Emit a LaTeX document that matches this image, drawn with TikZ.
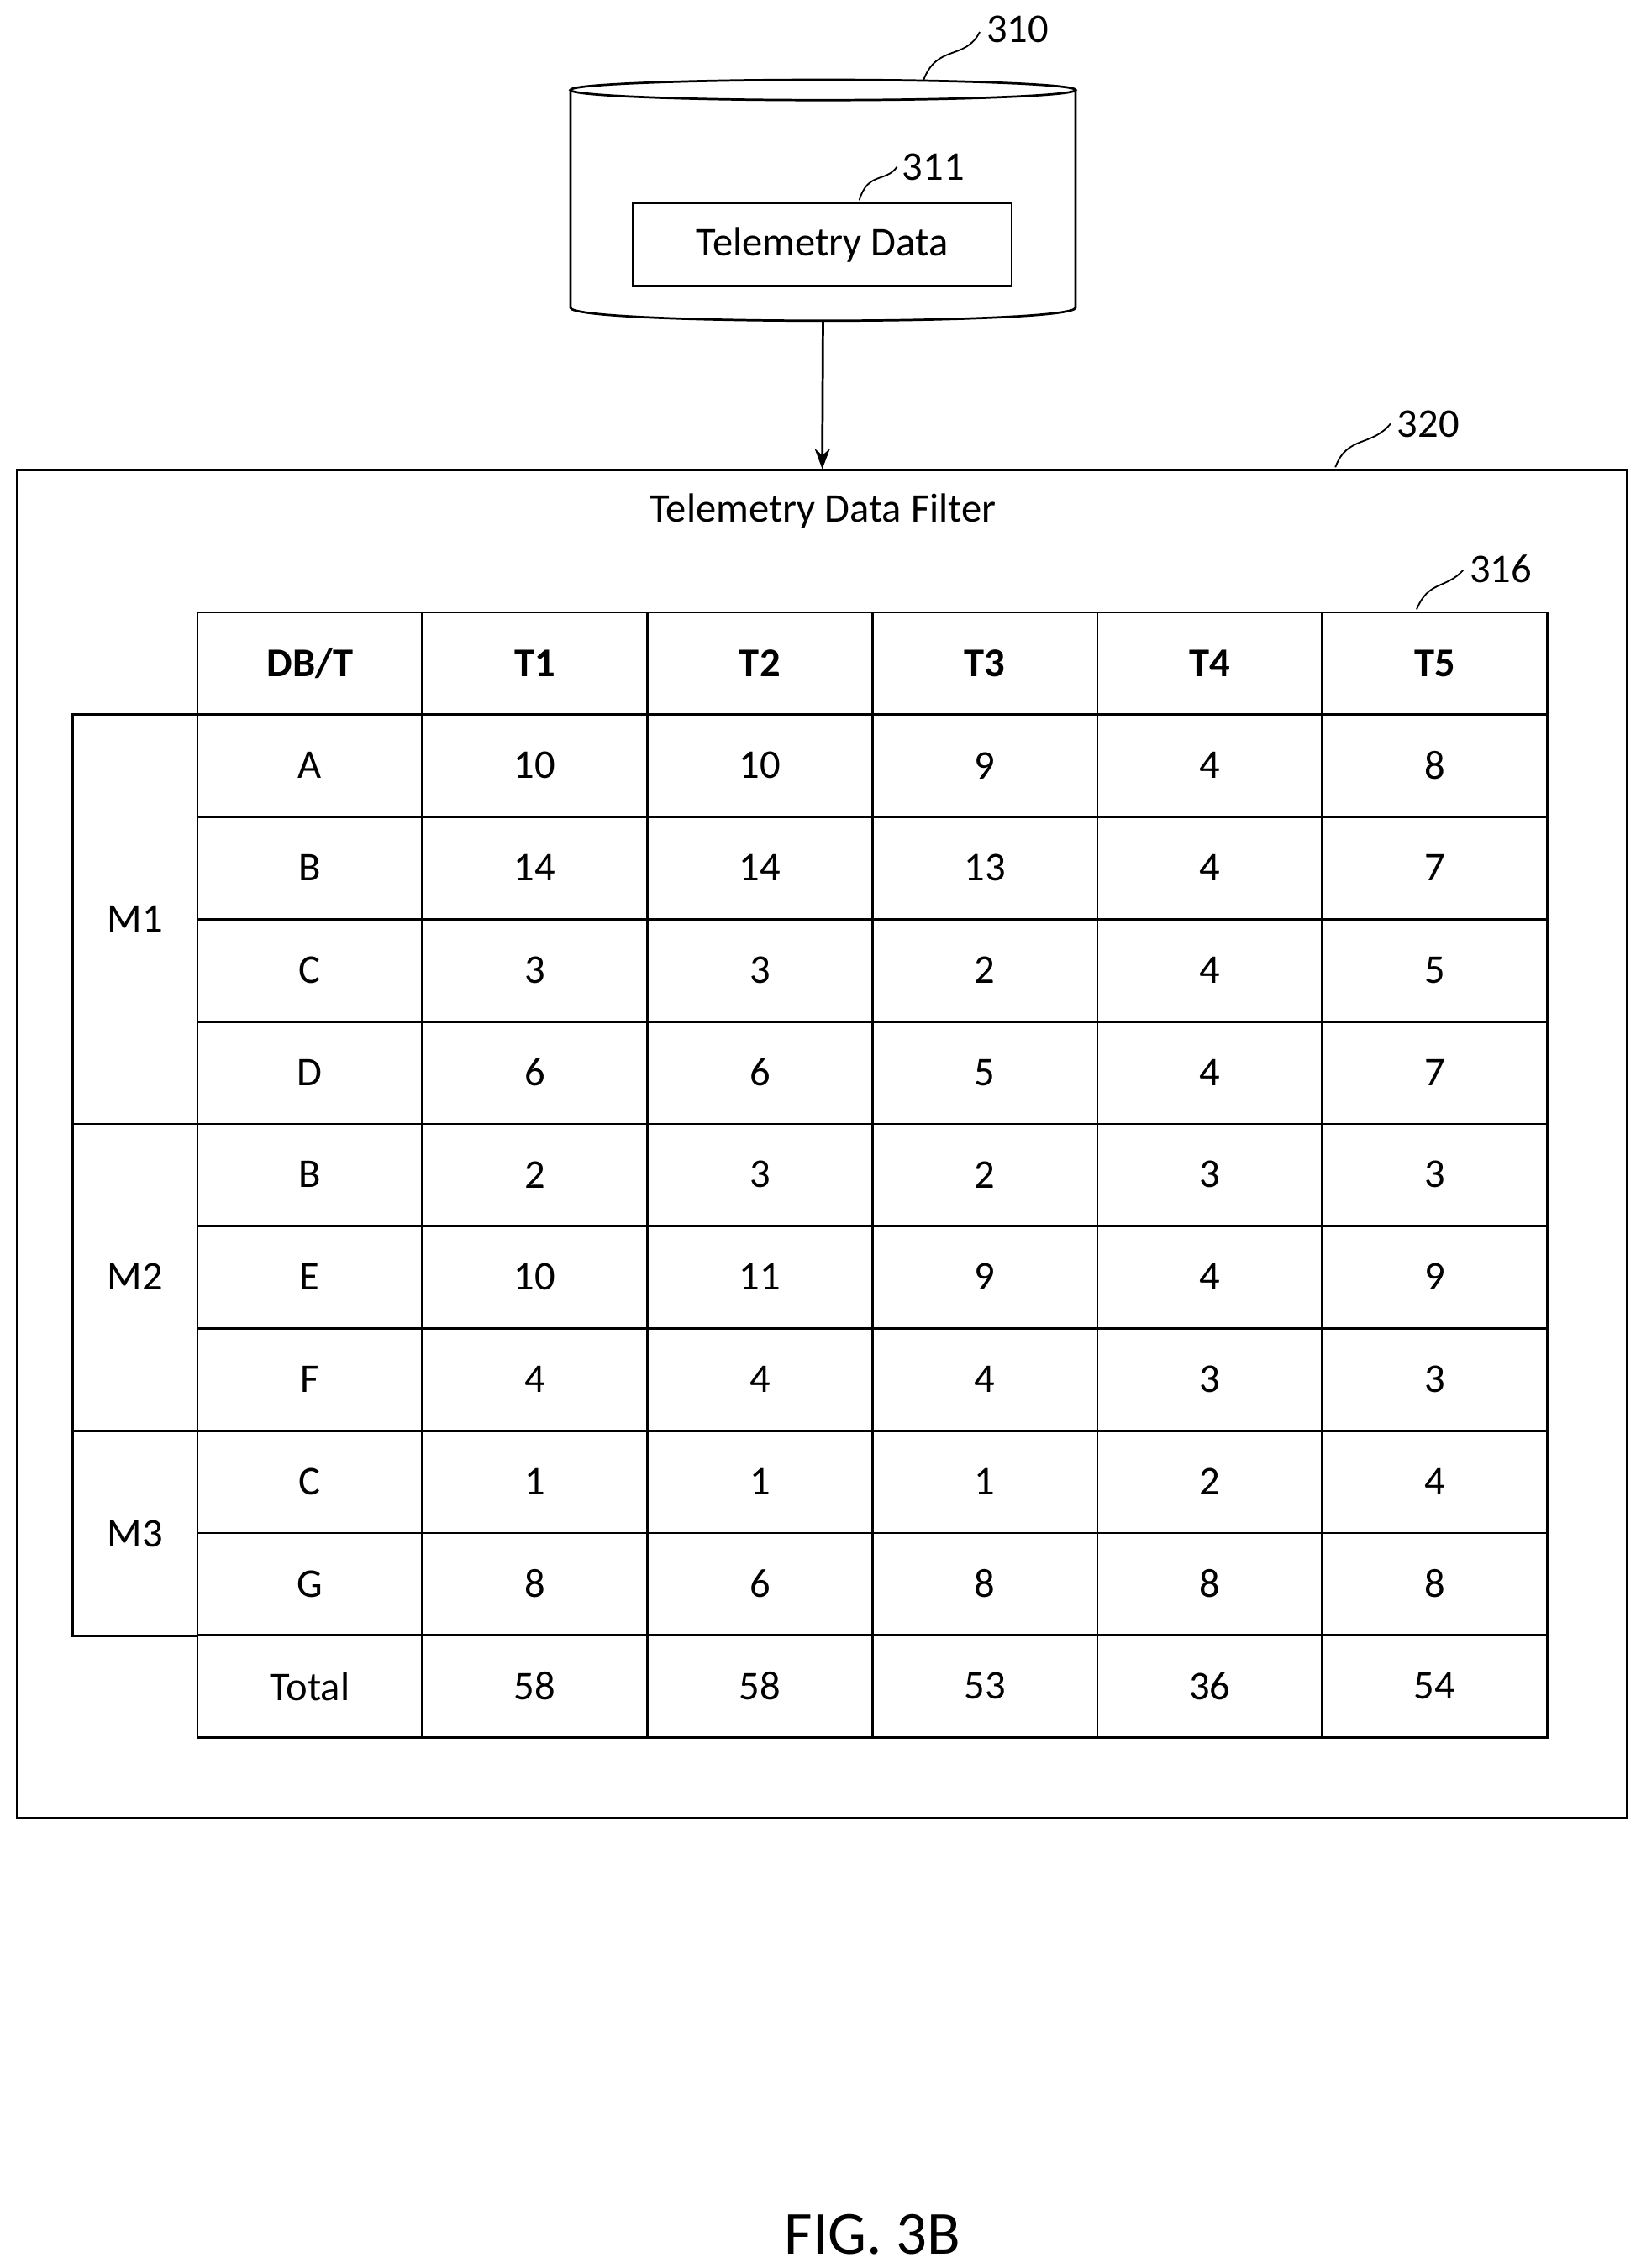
\documentclass[tikz,border=0pt]{standalone}
\usepackage{fontspec}
\setmainfont{Carlito}
\usetikzlibrary{arrows.meta}

\tikzset{
    cell/.style={font=\fontsize{16}{19}\selectfont},
    head/.style={font=\fontsize{16}{19}\selectfont\bfseries},
    refnum/.style={font=\fontsize{16}{19}\selectfont, anchor=west},
    leader/.style={line width=0.6pt}
}

\begin{document}
\begin{tikzpicture}[x=0.02cm, y=-0.02cm, line width=0.9pt]
    \useasboundingbox (0,0) rectangle (1130,1563);

    % Database cylinder
    \draw (393,62) -- (393,212) .. controls (393,224) and (741,224) .. (741,212) -- (741,62);
    \draw (567,62) ellipse (174 and 7);
    \node[draw, minimum width=261*0.02cm, minimum height=57*0.02cm, cell] (tdata) at (566.5,168.5) {Telemetry Data};
    \coordinate (dbbot) at (567,221);

    % Filter box
    \node[draw, minimum width=1109*0.02cm, minimum height=929*0.02cm] (filter) at (566.5,788.5) {};
    \node[cell] (ftitle) at (567,352) {Telemetry Data Filter};
    \draw[-{Stealth[length=8pt]}] (dbbot) -- (filter.north);

    % Table grid
    \foreach \i in {0,...,10}
        \draw (136,{422+\i*70.5}) rectangle (1066,{492.5+\i*70.5});
    \foreach \x in {291,446,601,756,911}
        \draw (\x,422) -- (\x,1198);

    % Group boxes
    \draw (50,492.5) rectangle (136,774.5);
    \draw (50,774.5) rectangle (136,986);
    \draw (50,986) rectangle (136,1127.5);
    \node[cell] (m1) at (93,633.5) {M1};
    \node[cell] (m2) at (93,880) {M2};
    \node[cell] (m3) at (93,1057) {M3};

    % Header
    \foreach \t [count=\c from 0] in {DB/T,T1,T2,T3,T4,T5}
        \node[head] (h\c) at ({213.5+\c*155},457) {\t};

    % Rows
    \foreach \row [count=\r from 1] in {
        {A,10,10,9,4,8},{B,14,14,13,4,7},{C,3,3,2,4,5},{D,6,6,5,4,7},
        {B,2,3,2,3,3},{E,10,11,9,4,9},{F,4,4,4,3,3},
        {C,1,1,1,2,4},{G,8,6,8,8,8},{Total,58,58,53,36,54}}
        \foreach \v [count=\c from 0] in \row
            \node[cell] (c\r-\c) at ({213.5+\c*155},{457+\r*70.5}) {\v};

    % Reference numerals
    \draw[leader] (636,56) .. controls (645,30) and (665,42) .. (675,22);
    \node[refnum] (n310) at (673,20) {310};
    \draw[leader] (592,138) .. controls (598,118) and (610,126) .. (618,115);
    \node[refnum] (n311) at (615,115) {311};
    \draw[leader] (920,322) .. controls (928,300) and (945,308) .. (958,292);
    \node[refnum] (n320) at (956,292) {320};
    \draw[leader] (976,420) .. controls (984,400) and (996,406) .. (1008,393);
    \node[refnum] (n316) at (1006,392) {316};

    \node[font=\fontsize{24}{28}\selectfont] (fig) at (601,1540) {FIG. 3B};
\end{tikzpicture}
\end{document}
